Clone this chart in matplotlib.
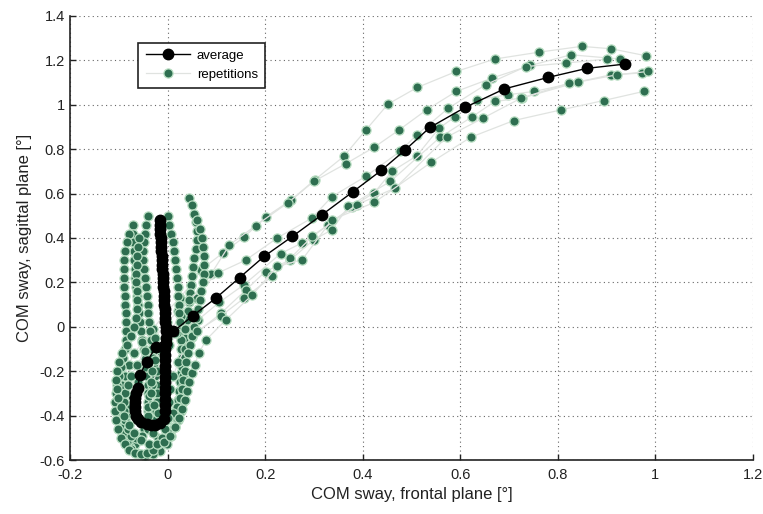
import matplotlib
matplotlib.use("Agg")
import matplotlib.pyplot as plt
from matplotlib.ticker import FuncFormatter

plt.rcParams['font.family'] = ['Liberation Sans', 'DejaVu Sans']

# ---------------- average trajectory ----------------
avg_x = [-0.016, -0.016, -0.015, -0.015, -0.014, -0.014, -0.013, -0.013, -0.012, -0.012,
         -0.011, -0.011, -0.010, -0.010, -0.009, -0.009, -0.008, -0.008, -0.007, -0.007,
         -0.006, -0.006, -0.005, -0.005, -0.004, -0.004, -0.004, -0.004, -0.005, -0.005,
         -0.005, -0.005, -0.005, -0.006, -0.006, -0.006, -0.006, -0.006, -0.006, -0.006,
         -0.008, -0.016, -0.025, -0.033, -0.043, -0.054, -0.061, -0.064, -0.066, -0.066,
         -0.067, -0.066, -0.064, -0.061, -0.057, -0.043, -0.023, 0.012, 0.052, 0.099,
         0.148, 0.198, 0.256, 0.317, 0.380, 0.438, 0.486, 0.538, 0.610, 0.690,
         0.780, 0.860, 0.937]
avg_y = [0.48, 0.46, 0.44, 0.42, 0.40, 0.38, 0.36, 0.34, 0.32, 0.30,
         0.28, 0.26, 0.24, 0.22, 0.20, 0.18, 0.16, 0.14, 0.12, 0.10,
         0.08, 0.06, 0.04, 0.02, 0.00, -0.02, -0.05, -0.075, -0.10, -0.125,
         -0.15, -0.175, -0.20, -0.225, -0.25, -0.275, -0.30, -0.325, -0.35, -0.38,
         -0.415, -0.434, -0.440, -0.441, -0.437, -0.427, -0.415, -0.400, -0.380, -0.360,
         -0.340, -0.320, -0.300, -0.276, -0.216, -0.159, -0.089, -0.021, 0.050, 0.129,
         0.222, 0.317, 0.407, 0.505, 0.608, 0.704, 0.794, 0.898, 0.988, 1.071,
         1.123, 1.164, 1.183]

# ---------------- repetitions ----------------
rep1_x = [-0.070, -0.071, -0.070, -0.069, -0.068, -0.067, -0.066, -0.065, -0.063, -0.061,
          -0.059, -0.057, -0.055, -0.052, -0.049, -0.046, -0.044, -0.042, -0.041, -0.040,
          -0.040, -0.041, -0.043, -0.048, -0.056, -0.066, -0.076, -0.086, -0.093, -0.097,
          -0.099, -0.100, -0.100, -0.098, -0.094, -0.088, -0.080, -0.068, -0.052, -0.030,
          -0.005, 0.025, 0.048, 0.069, 0.113, 0.157, 0.201, 0.254, 0.302, 0.361,
          0.407, 0.452, 0.512, 0.592, 0.671, 0.762, 0.849, 0.910, 0.980]
rep1_y = [0.46, 0.42, 0.38, 0.34, 0.30, 0.26, 0.22, 0.18, 0.14, 0.10,
          0.06, 0.02, -0.02, -0.06, -0.10, -0.14, -0.18, -0.22, -0.26, -0.30,
          -0.34, -0.38, -0.42, -0.46, -0.50, -0.53, -0.54, -0.53, -0.50, -0.46,
          -0.42, -0.38, -0.34, -0.30, -0.26, -0.22, -0.17, -0.12, -0.07, -0.01,
          0.06, 0.13, 0.19, 0.257, 0.332, 0.404, 0.494, 0.572, 0.662, 0.767,
          0.887, 1.003, 1.078, 1.150, 1.206, 1.237, 1.263, 1.252, 1.221]

rep2_x = [0.045, 0.050, 0.055, 0.058, 0.060, 0.060, 0.058, 0.055, 0.052, 0.050,
          0.048, 0.046, 0.044, 0.042, 0.040, 0.038, 0.036, 0.034, 0.032, 0.030,
          0.028, 0.026, 0.024, 0.022, 0.020, 0.018, 0.015, 0.008, -0.002, -0.015,
          -0.030, -0.046, -0.062, -0.075, -0.084, -0.088, -0.088, -0.085, -0.080, -0.072,
          -0.060, -0.044, -0.024, 0.000, 0.028, 0.058, 0.090, 0.127, 0.181, 0.246,
          0.300, 0.365, 0.424, 0.475, 0.531, 0.592, 0.665, 0.744, 0.827, 0.928]
rep2_y = [0.58, 0.55, 0.51, 0.47, 0.43, 0.39, 0.35, 0.31, 0.27, 0.23,
          0.19, 0.15, 0.11, 0.07, 0.03, -0.01, -0.05, -0.09, -0.13, -0.17,
          -0.21, -0.25, -0.29, -0.33, -0.37, -0.41, -0.45, -0.49, -0.53, -0.56,
          -0.575, -0.58, -0.57, -0.55, -0.52, -0.48, -0.44, -0.40, -0.36, -0.31,
          -0.25, -0.18, -0.11, -0.03, 0.05, 0.13, 0.240, 0.369, 0.456, 0.557,
          0.655, 0.734, 0.809, 0.887, 0.977, 1.060, 1.120, 1.177, 1.225, 1.206]

rep3_x = [-0.040, -0.044, -0.047, -0.049, -0.050, -0.050, -0.049, -0.047, -0.045, -0.043,
          -0.041, -0.039, -0.037, -0.035, -0.033, -0.031, -0.029, -0.027, -0.025, -0.023,
          -0.022, -0.022, -0.024, -0.030, -0.040, -0.052, -0.064, -0.074, -0.082, -0.087,
          -0.090, -0.090, -0.087, -0.082, -0.074, -0.062, -0.046, -0.026, -0.002, 0.022,
          0.045, 0.103, 0.160, 0.225, 0.296, 0.337, 0.406, 0.477, 0.511, 0.576,
          0.652, 0.735, 0.817, 0.902]
rep3_y = [0.50, 0.46, 0.42, 0.38, 0.34, 0.30, 0.26, 0.22, 0.18, 0.14,
          0.10, 0.06, 0.02, -0.02, -0.06, -0.10, -0.14, -0.18, -0.22, -0.26,
          -0.30, -0.34, -0.38, -0.42, -0.46, -0.49, -0.50, -0.49, -0.46, -0.42,
          -0.38, -0.34, -0.30, -0.26, -0.22, -0.17, -0.11, -0.05, 0.02, 0.07,
          0.120, 0.242, 0.300, 0.400, 0.490, 0.586, 0.677, 0.790, 0.865, 0.985,
          1.090, 1.172, 1.188, 1.206]

rep4_x = [0.000, 0.004, 0.008, 0.011, 0.014, 0.016, 0.018, 0.020, 0.021, 0.022,
          0.023, 0.024, 0.025, 0.026, 0.027, 0.028, 0.029, 0.030, 0.031, 0.032,
          0.032, 0.031, 0.028, 0.022, 0.014, 0.004, -0.008, -0.020, -0.030, -0.037,
          -0.040, -0.040, -0.037, -0.031, -0.022, -0.010, 0.004, 0.020, 0.062, 0.106,
          0.157, 0.232, 0.276, 0.330, 0.378, 0.424, 0.460, 0.511, 0.557, 0.589,
          0.635, 0.697, 0.752, 0.909, 0.973]
rep4_y = [0.50, 0.46, 0.42, 0.38, 0.34, 0.30, 0.26, 0.22, 0.18, 0.14,
          0.10, 0.06, 0.02, -0.02, -0.06, -0.10, -0.14, -0.18, -0.22, -0.26,
          -0.30, -0.34, -0.38, -0.42, -0.45, -0.48, -0.50, -0.50, -0.48, -0.44,
          -0.40, -0.36, -0.31, -0.26, -0.20, -0.14, -0.08, -0.030, 0.030, 0.110,
          0.190, 0.330, 0.378, 0.460, 0.541, 0.604, 0.700, 0.770, 0.895, 0.945,
          1.023, 1.045, 1.060, 1.135, 1.143]

rep5_x = [-0.080, -0.084, -0.087, -0.089, -0.090, -0.090, -0.089, -0.088, -0.087, -0.086,
          -0.085, -0.085, -0.086, -0.088, -0.091, -0.095, -0.099, -0.103, -0.106, -0.108,
          -0.108, -0.106, -0.102, -0.096, -0.088, -0.078, -0.066, -0.054, -0.042, -0.030,
          -0.020, -0.012, -0.006, -0.002, 0.001, 0.003, 0.006, 0.012, 0.022, 0.035,
          0.050, 0.110, 0.161, 0.201, 0.252, 0.300, 0.337, 0.371, 0.457, 0.559,
          0.624, 0.671, 0.727, 0.841, 0.922, 0.985]
rep5_y = [0.42, 0.38, 0.34, 0.30, 0.26, 0.22, 0.18, 0.14, 0.10, 0.06,
          0.02, -0.02, -0.06, -0.10, -0.14, -0.18, -0.22, -0.26, -0.30, -0.34,
          -0.38, -0.42, -0.46, -0.50, -0.53, -0.555, -0.57, -0.575, -0.57, -0.555,
          -0.53, -0.50, -0.46, -0.42, -0.38, -0.34, -0.28, -0.22, -0.16, -0.10,
          -0.045, 0.062, 0.167, 0.249, 0.302, 0.392, 0.437, 0.542, 0.655, 0.854,
          0.945, 1.015, 1.030, 1.102, 1.135, 1.150]

rep6_x = [0.060, 0.066, 0.070, 0.073, 0.075, 0.075, 0.074, 0.072, 0.069, 0.066,
          0.062, 0.058, 0.054, 0.050, 0.046, 0.042, 0.038, 0.035, 0.032, 0.029,
          0.025, 0.019, 0.011, 0.001, -0.010, -0.020, -0.028, -0.033, -0.034, -0.032,
          -0.026, -0.016, -0.002, 0.016, 0.036, 0.060, 0.110, 0.157, 0.215, 0.252,
          0.297, 0.388, 0.467, 0.572, 0.647, 0.725, 0.824]
rep6_y = [0.48, 0.44, 0.40, 0.36, 0.32, 0.28, 0.24, 0.20, 0.16, 0.12,
          0.08, 0.04, 0.00, -0.04, -0.08, -0.12, -0.16, -0.20, -0.24, -0.28,
          -0.32, -0.36, -0.39, -0.41, -0.41, -0.39, -0.35, -0.30, -0.25, -0.20,
          -0.15, -0.10, -0.06, -0.03, -0.01, -0.020, 0.050, 0.129, 0.227, 0.310,
          0.407, 0.550, 0.625, 0.854, 0.940, 1.030, 1.098]

rep7_x = [-0.058, -0.060, -0.062, -0.063, -0.064, -0.064, -0.063, -0.062, -0.062, -0.064,
          -0.068, -0.075, -0.084, -0.093, -0.100, -0.104, -0.105, -0.104, -0.101, -0.096,
          -0.089, -0.080, -0.068, -0.054, -0.038, -0.022, -0.007, 0.006, 0.016, 0.024,
          0.030, 0.035, 0.040, 0.045, 0.050, 0.056, 0.064, 0.079, 0.120, 0.174,
          0.225, 0.276, 0.337, 0.424, 0.540, 0.622, 0.710, 0.807, 0.894, 0.976]
rep7_y = [0.40, 0.36, 0.32, 0.28, 0.24, 0.20, 0.16, 0.12, 0.08, 0.04,
          0.00, -0.04, -0.08, -0.12, -0.16, -0.20, -0.24, -0.28, -0.32, -0.36,
          -0.40, -0.44, -0.48, -0.51, -0.53, -0.53, -0.52, -0.49, -0.45, -0.41,
          -0.37, -0.33, -0.29, -0.25, -0.21, -0.17, -0.12, -0.059, 0.032, 0.144,
          0.272, 0.302, 0.482, 0.560, 0.740, 0.854, 0.929, 0.977, 1.019, 1.060]

reps = [(rep1_x, rep1_y), (rep2_x, rep2_y), (rep3_x, rep3_y), (rep4_x, rep4_y),
        (rep5_x, rep5_y), (rep6_x, rep6_y), (rep7_x, rep7_y)]

x_ticks = [-0.2, 0, 0.2, 0.4, 0.6, 0.8, 1, 1.2]
y_ticks = [-0.6, -0.4, -0.2, 0, 0.2, 0.4, 0.6, 0.8, 1, 1.2, 1.4]

GREEN = '#2e6e50'
GREEN_EDGE = '#b8dec2'
LINE_GRAY = '#e0e3e0'

fig = plt.figure(figsize=(7.63, 5.14), dpi=100)
ax = fig.add_axes([0.0917, 0.105, 0.895, 0.864])

rep_handle = None
for i, (rx, ry) in enumerate(reps):
    h, = ax.plot(rx, ry, '-', color=LINE_GRAY, lw=0.9, marker='o', markersize=6.6,
                 markerfacecolor=GREEN, markeredgecolor=GREEN_EDGE, markeredgewidth=0.9,
                 zorder=2)
    if i == 0:
        rep_handle = h

avg_handle, = ax.plot(avg_x, avg_y, '-', color='black', lw=1.0, marker='o',
                      markersize=7.5, markerfacecolor='black', markeredgecolor='black',
                      zorder=3)

ax.set_xlim(-0.2, 1.2)
ax.set_ylim(-0.6, 1.4)
ax.set_xticks(x_ticks)
ax.set_yticks(y_ticks)
fmt = FuncFormatter(lambda v, p: ('%g' % round(v, 2)))
ax.xaxis.set_major_formatter(fmt)
ax.yaxis.set_major_formatter(fmt)
ax.tick_params(direction='in', length=4, width=1, labelsize=10.5, colors='#222222')
ax.tick_params(axis='x', pad=6)
ax.grid(True, linestyle=(0, (1, 3)), color='#666666', lw=0.8)
ax.set_axisbelow(True)
for s in ['top', 'right']:
    ax.spines[s].set_visible(False)
for s in ['left', 'bottom']:
    ax.spines[s].set_linewidth(1.2)
    ax.spines[s].set_color('#222222')

ax.set_xlabel('COM sway, frontal plane [°]', fontsize=12, labelpad=3, color='#222222')
ax.set_ylabel('COM sway, sagittal plane [°]', fontsize=12, labelpad=6, color='#222222')

leg = ax.legend([avg_handle, rep_handle], ['average', 'repetitions'],
                loc='upper left', bbox_to_anchor=(0.10, 0.94), borderaxespad=0,
                fancybox=False, framealpha=1, edgecolor='#222222', fontsize=9.5,
                handlelength=3.4, handletextpad=0.5, borderpad=0.55, labelspacing=0.5)
leg.get_frame().set_linewidth(1.2)

fig.savefig('out.png', dpi=100)
